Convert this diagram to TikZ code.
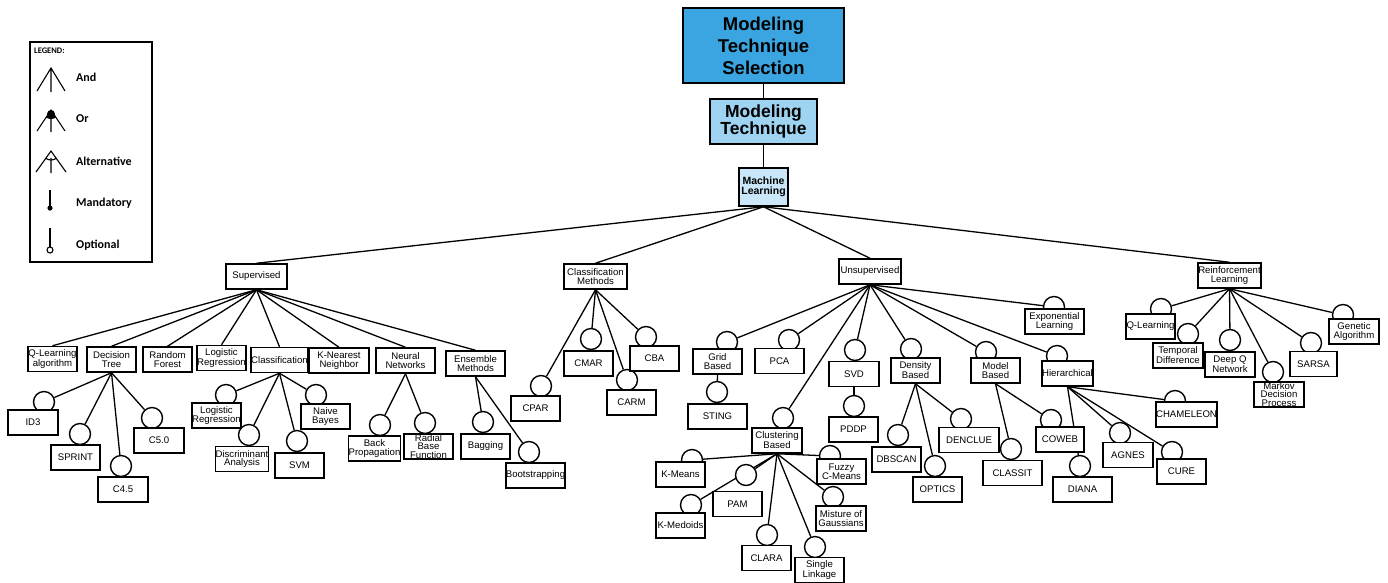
\documentclass[tikz,border=0pt]{standalone}
\usepackage{fontspec}
\setmainfont{Liberation Sans}
\newfontfamily\legfont{Carlito}
\pgfdeclarelayer{background}
\pgfdeclarelayer{mid}
\pgfsetlayers{background,mid,main}
\definecolor{cA}{HTML}{3AA5E0}
\definecolor{cB}{HTML}{9ED4F2}
\definecolor{cC}{HTML}{C9E7F8}
\tikzset{
  tbox/.style={draw, line width=1.5pt, fill=white, inner sep=0pt, minimum height=25pt,
    align=center, font=\fontsize{9.6}{8.8}\selectfont},
  optc/.style={draw, circle, line width=1.4pt, fill=white, minimum size=21pt, inner sep=0pt},
  conn/.style={line width=1.3pt},
  headbox/.style={draw, line width=1.7pt, inner sep=0pt, align=center},
  legtxt/.style={anchor=west, inner sep=0pt, font=\legfont\bfseries\fontsize{12}{12}\selectfont},
  legline/.style={line width=1.1pt},
}
% name, parent, x, y, width, circle x, circle y, text
\newcommand\optnode[8]{%
  \node[tbox, minimum width=#5pt] (#1) at (#3,#4) {#8};
  \begin{pgfonlayer}{mid}\node[optc] (#1c) at (#6,#7) {};\end{pgfonlayer}
  \begin{pgfonlayer}{background}\draw[conn] (#2.south) -- (#1c);\end{pgfonlayer}
}
% name, parent, x, y, width, text
\newcommand\plainnode[6]{%
  \node[tbox, minimum width=#5pt] (#1) at (#3,#4) {#6};
  \begin{pgfonlayer}{background}\draw[conn] (#2.south) -- (#1.north);\end{pgfonlayer}
}
\begin{document}
\begin{tikzpicture}[x=1pt,y=-1pt]
\useasboundingbox (0,0) rectangle (1388,582);

% ---------- legend ----------
\node[draw, line width=1.2pt, minimum width=122pt, minimum height=220pt, inner sep=0pt] (legend) at (91,152) {};
\node[anchor=west, inner sep=0pt, font=\legfont\bfseries\fontsize{8.5}{8.5}\selectfont] (legtitle) at (34,51) {LEGEND:};
% And
\draw[legline] (37,91) -- (51,68) -- (65,91) (51,68) -- (51,92);
\node[legtxt] (l-and) at (76,77) {And};
% Or
\fill (51,110) -- ++(236.3:9pt) arc[start angle=236.3, end angle=303.7, radius=9pt] -- cycle;
\fill (51,114) circle (4pt);
\draw[legline] (37,131) -- (51,110) -- (65,131) (51,110) -- (51,132);
\node[legtxt] (l-or) at (76,119) {Or};
% Alternative
\draw[legline] (36,172) -- (51,151) -- (66,172) (51,158) -- (51,173);
\draw[legline] (51,151) ++(236.3:9pt) arc[start angle=236.3, end angle=303.7, radius=9pt];
\node[legtxt] (l-alt) at (76,161) {Alternative};
% Mandatory
\draw[legline] (50,190) -- (50,208);
\fill (50,208) circle (2.6pt);
\node[legtxt] (l-man) at (76,203) {Mandatory};
% Optional
\draw[legline] (50,228) -- (50,247);
\draw[legline, fill=white] (50,250) circle (3pt);
\node[legtxt] (l-opt) at (76,245) {Optional};

% ---------- head ----------
\node[headbox, fill=cA, minimum width=161pt, minimum height=75pt,
  font=\bfseries\fontsize{18.5}{22}\selectfont] (top) at (763.5,45.5) {Modeling\\Technique\\Selection};
\node[headbox, fill=cB, minimum width=107pt, minimum height=45pt,
  font=\bfseries\fontsize{17.5}{16}\selectfont] (mt) at (763.5,121.5) {Modeling\\Technique};
\node[headbox, line width=1.5pt, fill=cC, minimum width=49pt, minimum height=38pt,
  font=\bfseries\fontsize{10.5}{9.5}\selectfont] (ml) at (763.5,187) {Machine\\Learning};
\begin{pgfonlayer}{background}
\draw[conn] (top.south) -- (mt.north);
\draw[conn] (mt.south) -- (ml.north);
\end{pgfonlayer}

% ---------- level 1 ----------
\node[tbox, minimum width=61pt] (sup) at (256.5,276.5) {Supervised};
\node[tbox, minimum width=63pt] (cm) at (595.5,276.5) {Classification\\Methods};
\node[tbox, minimum width=62pt] (uns) at (870,271.5) {Unsupervised};
\node[tbox, minimum width=63pt] (rl) at (1229.5,275.5) {Reinforcement\\Learning};
\begin{pgfonlayer}{background}
\foreach \c in {sup,cm,uns,rl} \draw[conn] (ml.south) -- (\c.north);
\end{pgfonlayer}

% ---------- supervised ----------
\plainnode{qla}{sup}{52.5}{359}{49}{Q-Learning\\algorithm}
\plainnode{dt}{sup}{111.5}{359.5}{49}{Decision\\Tree}
\plainnode{rf}{sup}{167.5}{359.5}{49}{Random\\Forest}
\plainnode{lr}{sup}{221.5}{358}{49}{Logistic\\Regression}
\plainnode{cls}{sup}{279.5}{360}{49}{Classification}
\plainnode{knn}{sup}{339}{360.5}{60}{K-Nearest\\Neighbor}
\plainnode{nn}{sup}{405.5}{360.5}{59}{Neural\\Networks}
\plainnode{em}{sup}{475.5}{363.5}{59}{Ensemble\\Methods}

\optnode{id3}{dt}{33}{422.5}{50}{44}{402}{ID3}
\optnode{sprint}{dt}{75.5}{457.5}{49}{80}{434}{SPRINT}
\optnode{cfour}{dt}{123}{489.5}{50}{121}{466}{C4.5}
\optnode{cfive}{dt}{159}{440.5}{50}{152}{418}{C5.0}

\optnode{lrtwo}{cls}{216.5}{415.5}{49}{226}{395}{Logistic\\Regression}
\optnode{da}{cls}{242}{459}{50}{249}{435}{Discriminant\\Analysis}
\optnode{svm}{cls}{299.5}{465.5}{49}{297}{441}{SVM}
\optnode{nb}{cls}{325.5}{416.5}{49}{316}{395}{Naive\\Bayes}

\optnode{bp}{nn}{374.5}{448.5}{49}{380}{425}{Back\\Propagation}
\optnode{rbf}{nn}{428.5}{446.5}{49}{425}{423}{Radial\\Base\\Function}

\optnode{bag}{em}{485.5}{446.5}{49}{483}{422}{Bagging}
\optnode{boot}{em}{535.5}{475.5}{59}{529}{452}{Bootstrapping}

% ---------- classification methods ----------
\optnode{cpar}{cm}{535.5}{408.5}{49}{541}{386}{CPAR}
\optnode{cmar}{cm}{588.5}{363.5}{49}{591}{339}{CMAR}
\optnode{carm}{cm}{631.5}{402.5}{49}{627}{380}{CARM}
\optnode{cba}{cm}{654.5}{358.5}{49}{646}{337}{CBA}

% ---------- unsupervised ----------
\optnode{gb}{uns}{717.5}{361.5}{49}{727}{342}{Grid\\Based}
\optnode{sting}{gb}{717.5}{416.5}{59}{717}{392}{STING}
\optnode{pca}{uns}{779.5}{361}{49}{789}{340}{PCA}
\optnode{svd}{uns}{854}{374}{50}{855}{350}{SVD}
\optnode{pddp}{svd}{853.5}{429.5}{49}{854}{406}{PDDP}
\optnode{cb}{uns}{777}{440.5}{50}{783}{418}{Clustering\\Based}
\optnode{km}{cb}{680.5}{474.5}{49}{692}{460}{K-Means}
\optnode{pam}{cb}{737.5}{504}{49}{746}{475}{PAM}
\optnode{kmed}{cb}{680.5}{525.5}{49}{691}{505}{K-Medoids}
\optnode{clara}{cb}{766.5}{558}{49}{767}{535}{CLARA}
\optnode{sl}{cb}{819.5}{570}{49}{815}{547}{Single\\Linkage}
\optnode{mog}{cb}{841}{518.5}{50}{833}{497}{Misture of\\Gaussians}
\optnode{fcm}{cb}{841.5}{471.5}{49}{830}{456}{Fuzzy\\C-Means}
\optnode{db}{uns}{915.5}{370.5}{49}{911}{349}{Density\\Based}
\optnode{dbscan}{db}{896.5}{459.5}{49}{898}{435}{DBSCAN}
\optnode{optics}{db}{937.5}{489.5}{49}{935}{466}{OPTICS}
\optnode{denclue}{db}{969}{440}{60}{961}{419}{DENCLUE}
\optnode{mb}{uns}{995.5}{370.5}{49}{986}{352}{Model\\Based}
\optnode{classit}{mb}{1012.5}{473}{59}{1011}{449}{CLASSIT}
\optnode{coweb}{mb}{1060}{439.5}{48}{1051}{420}{COWEB}
\optnode{hier}{uns}{1067.5}{373.5}{49}{1057}{356}{Hierarchical}
\optnode{diana}{hier}{1082.5}{489.5}{59}{1080}{466}{DIANA}
\optnode{agnes}{hier}{1128}{455}{50}{1120}{433}{AGNES}
\optnode{cure}{hier}{1181.5}{471.5}{49}{1172}{452}{CURE}
\optnode{cham}{hier}{1186.5}{414.5}{59}{1175}{401}{CHAMELEON}
\optnode{el}{uns}{1054.5}{321.5}{59}{1054}{307}{Exponential\\Learning}

% ---------- reinforcement ----------
\optnode{ql}{rl}{1150.5}{326.5}{49}{1161}{309}{Q-Learning}
\optnode{td}{rl}{1178}{355.5}{50}{1188}{334}{Temporal\\Difference}
\optnode{dqn}{rl}{1230}{364.5}{50}{1230}{340}{Deep Q\\Network}
\optnode{mdp}{rl}{1279}{394.5}{50}{1273}{372}{Markov\\Decision\\Process}
\optnode{sarsa}{rl}{1313.5}{364}{47}{1311}{343}{SARSA}
\optnode{ga}{rl}{1354}{331.5}{50}{1343}{315}{Genetic\\Algorithm}
\end{tikzpicture}
\end{document}
